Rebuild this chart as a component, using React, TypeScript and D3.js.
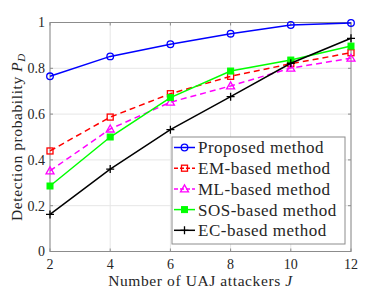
import * as d3 from "d3";

// Abscisses : nombre d'attaquants UAJ
const attackers = [2, 4, 6, 8, 10, 12];

// Probabilités de détection par méthode
const proposed = [0.765, 0.852, 0.905, 0.951, 0.989, 0.998];
const emBased = [0.439, 0.587, 0.689, 0.765, 0.82, 0.868];
const mlBased = [0.352, 0.535, 0.652, 0.723, 0.801, 0.844];
const sosBased = [0.286, 0.5, 0.672, 0.788, 0.836, 0.897];
const ecBased = [0.162, 0.36, 0.532, 0.676, 0.822, 0.931];

const xTicks = [2, 4, 6, 8, 10, 12];
const yTicks = [0, 0.2, 0.4, 0.6, 0.8, 1];

type Marker = "circle" | "square" | "triangle" | "filled" | "plus";

interface Series {
  name: string;
  values: number[];
  color: string;
  dash?: string;
  marker: Marker;
}

const series: Series[] = [
  { name: "Proposed method", values: proposed, color: "#0000ff", marker: "circle" },
  { name: "EM-based method", values: emBased, color: "#ff0000", dash: "6,4", marker: "square" },
  { name: "ML-based method", values: mlBased, color: "#ff00ff", dash: "6,4", marker: "triangle" },
  { name: "SOS-based method", values: sosBased, color: "#00ff00", marker: "filled" },
  { name: "EC-based method", values: ecBased, color: "#000000", marker: "plus" },
];

const W = 388;
const H = 291;
const margin = { top: 22.5, right: 37, bottom: 39.5, left: 50 };
const FONT = "Liberation Serif, DejaVu Serif, serif";

function MarkerShape({ type, x, y, color }: { type: Marker; x: number; y: number; color: string }) {
  switch (type) {
    case "circle":
      return <circle cx={x} cy={y} r={3.3} fill="none" stroke={color} strokeWidth={1.3} />;
    case "square":
      return <rect x={x - 3} y={y - 3} width={6} height={6} fill="none" stroke={color} strokeWidth={1.3} />;
    case "triangle":
      return (
        <path
          d={`M${x},${y - 4}L${x + 4},${y + 3}L${x - 4},${y + 3}Z`}
          fill="none"
          stroke={color}
          strokeWidth={1.3}
        />
      );
    case "filled":
      return <rect x={x - 3} y={y - 3} width={6} height={6} fill={color} stroke={color} strokeWidth={1} />;
    case "plus":
      return (
        <path
          d={`M${x - 4},${y}H${x + 4}M${x},${y - 4}V${y + 4}`}
          stroke={color}
          strokeWidth={1.3}
        />
      );
  }
}

export default function App() {
  const innerW = W - margin.left - margin.right;
  const innerH = H - margin.top - margin.bottom;

  const x = d3.scaleLinear().domain([2, 12]).range([margin.left, margin.left + innerW]);
  const y = d3.scaleLinear().domain([0, 1]).range([margin.top + innerH, margin.top]);

  const line = d3
    .line<number>()
    .x((_, i) => x(attackers[i]))
    .y((d) => y(d));

  // Légende
  const legend = { x: 172, y: 137, w: 173, h: 107 };

  return (
    <svg
      width={W}
      height={H}
      style={{ position: "absolute", left: 0, top: 0, background: "#fff", fontFamily: FONT }}
    >
      {/* Grille */}
      {xTicks.map((t) => (
        <line key={`gx${t}`} x1={x(t)} x2={x(t)} y1={y(0)} y2={y(1)} stroke="#e6e6e6" strokeWidth={1} />
      ))}
      {yTicks.map((t) => (
        <line key={`gy${t}`} x1={x(2)} x2={x(12)} y1={y(t)} y2={y(t)} stroke="#e6e6e6" strokeWidth={1} />
      ))}

      {/* Cadre des axes */}
      <rect
        x={x(2)}
        y={y(1)}
        width={innerW}
        height={innerH}
        fill="none"
        stroke="#8c8c8c"
        strokeWidth={1}
      />

      {/* Graduations */}
      {xTicks.map((t) => (
        <g key={`tx${t}`}>
          <line x1={x(t)} x2={x(t)} y1={y(0)} y2={y(0) - 3} stroke="#8c8c8c" />
          <line x1={x(t)} x2={x(t)} y1={y(1)} y2={y(1) + 3} stroke="#8c8c8c" />
          <text x={x(t)} y={y(0) + 17} textAnchor="middle" fontSize={14} fill="#262626">
            {t}
          </text>
        </g>
      ))}
      {yTicks.map((t) => (
        <g key={`ty${t}`}>
          <line x1={x(2)} x2={x(2) + 3} y1={y(t)} y2={y(t)} stroke="#8c8c8c" />
          <line x1={x(12)} x2={x(12) - 3} y1={y(t)} y2={y(t)} stroke="#8c8c8c" />
          <text x={x(2) - 5} y={y(t)} dy="0.35em" textAnchor="end" fontSize={14} fill="#262626">
            {d3.format("~g")(t)}
          </text>
        </g>
      ))}

      {/* Séries */}
      {series.map((s) => (
        <g key={s.name}>
          <path
            d={line(s.values) || ""}
            fill="none"
            stroke={s.color}
            strokeWidth={1.5}
            strokeDasharray={s.dash}
          />
          {s.values.map((v, i) => (
            <MarkerShape key={i} type={s.marker} x={x(attackers[i])} y={y(v)} color={s.color} />
          ))}
        </g>
      ))}

      {/* Légende */}
      <rect
        x={legend.x}
        y={legend.y}
        width={legend.w}
        height={legend.h}
        fill="#fff"
        stroke="#8c8c8c"
        strokeWidth={1}
      />
      {series.map((s, i) => {
        const cy = legend.y + 10.5 + i * 20.7;
        return (
          <g key={`lg${s.name}`}>
            <line
              x1={legend.x + 2}
              x2={legend.x + 23}
              y1={cy}
              y2={cy}
              stroke={s.color}
              strokeWidth={1.5}
              strokeDasharray={s.dash ? "4,2" : undefined}
            />
            <MarkerShape type={s.marker} x={legend.x + 12.5} y={cy} color={s.color} />
            <text
              x={legend.x + 26}
              y={cy}
              dy="0.35em"
              fontSize={17}
              letterSpacing={0.5}
              fill="#262626"
            >
              {s.name}
            </text>
          </g>
        );
      })}

      {/* Titres des axes */}
      <text
        x={x(7)}
        y={286}
        textAnchor="middle"
        fontSize={15.5}
        letterSpacing={0.6}
        fill="#262626"
      >
        Number of UAJ attackers <tspan fontStyle="italic">J</tspan>
      </text>
      <text
        transform={`translate(22,${(y(0) + y(1)) / 2}) rotate(-90)`}
        textAnchor="middle"
        fontSize={15.5}
        letterSpacing={0.6}
        fill="#262626"
      >
        Detection probability <tspan fontStyle="italic">P</tspan>
        <tspan fontStyle="italic" fontSize={11} dy={3}>
          D
        </tspan>
      </text>
    </svg>
  );
}
